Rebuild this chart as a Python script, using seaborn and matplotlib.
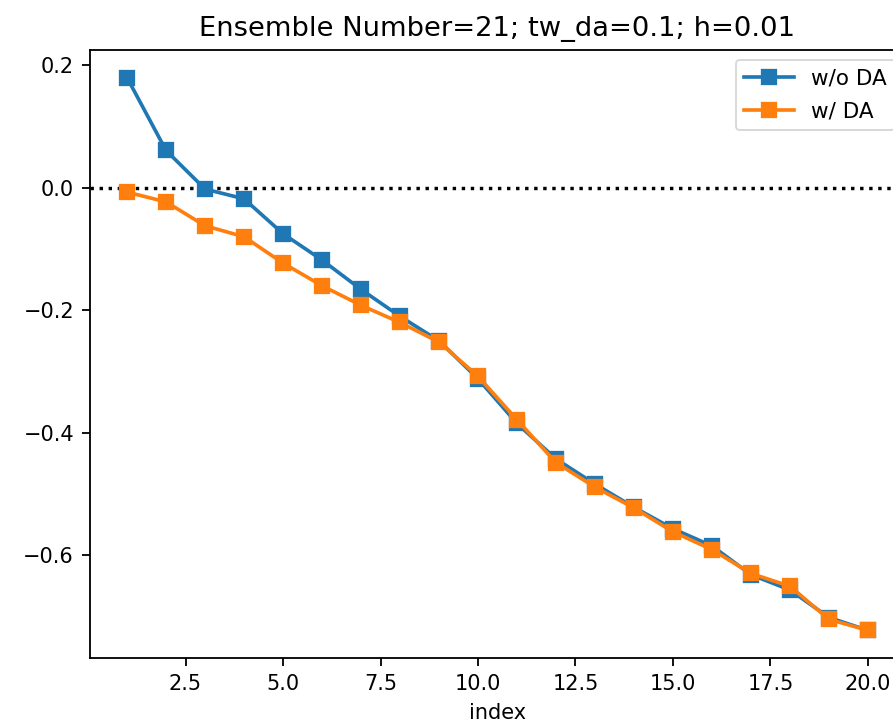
import numpy as np
import pandas as pd
import matplotlib
matplotlib.use("Agg")
import matplotlib.pyplot as plt
import seaborn as sns

index = list(range(1, 21))
wo_da = [0.180, 0.061, -0.002, -0.018, -0.075, -0.118, -0.166, -0.210, -0.250, -0.312,
         -0.385, -0.443, -0.484, -0.522, -0.557, -0.585, -0.632, -0.657, -0.702, -0.723]
w_da = [-0.007, -0.023, -0.062, -0.080, -0.123, -0.160, -0.192, -0.220, -0.252, -0.308,
        -0.379, -0.449, -0.489, -0.523, -0.562, -0.591, -0.630, -0.651, -0.705, -0.723]
series_names = ["w/o DA", "w/ DA"]
title = "Ensemble Number=21; tw_da=0.1; h=0.01"

s = 1.64
plt.rcParams['font.family'] = ['DejaVu Sans']

df = pd.DataFrame({
    "index": index * 2,
    "value": wo_da + w_da,
    "series": [series_names[0]] * len(index) + [series_names[1]] * len(index),
})

fig = plt.figure(figsize=(8.93, 7.25), dpi=100)
ax = fig.add_axes([90 / 893, 1 - 658 / 725, 815 / 893, 608 / 725])

sns.lineplot(data=df, x="index", y="value", hue="series", style="series",
             markers={"w/o DA": "s", "w/ DA": "s"}, dashes=False,
             palette={"w/o DA": "#1f77b4", "w/ DA": "#ff7f0e"},
             linewidth=1.6 * s, markersize=6 * s, markeredgewidth=1.0 * s,
             ax=ax, legend=True)
for ln in ax.lines:
    ln.set_markeredgecolor(ln.get_color())
ax.axhline(0, color="black", linestyle=":", linewidth=1.5 * s, zorder=1)

ax.margins(x=0.05, y=0.05)
ax.set_title(title, fontsize=12 * s, pad=6 * s)
ax.set_xlabel("index", fontsize=10 * 1.5, labelpad=4 * s)
ax.set_ylabel("")
ax.set_yticks([0.2, 0.0, -0.2, -0.4, -0.6])
ax.set_xticks([2.5, 5.0, 7.5, 10.0, 12.5, 15.0, 17.5, 20.0])
ax.tick_params(labelsize=10 * 1.5, length=3.5 * s, width=0.8 * s, pad=3.5 * s)
for sp in ax.spines.values():
    sp.set_linewidth(0.8 * s)
handles, labels = ax.get_legend_handles_labels()
for h in handles:
    try:
        h.set_markeredgecolor(h.get_color())
    except AttributeError:
        pass
leg = ax.legend(handles, labels, loc="upper right", fontsize=15.5, handlelength=2.3,
                labelspacing=0.6, borderaxespad=0.45)
for h in leg.get_lines():
    h.set_markeredgecolor(h.get_color())
leg.get_frame().set_linewidth(0.8 * s)

fig.savefig("out.png", dpi=100)
